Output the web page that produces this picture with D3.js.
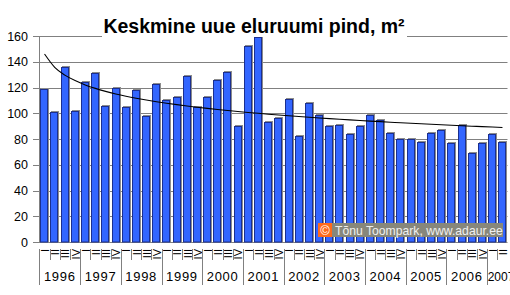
<!DOCTYPE html>
<html>
<head>
<meta charset="utf-8">
<script src="https://cdn.jsdelivr.net/npm/d3@7"></script>
<style>
  body { margin: 0; background: #fff; }
  svg { display: block; font-family: "Liberation Sans", Arial, sans-serif; }
</style>
</head>
<body>
<div id="chart"></div>
<script>
// data, quarterly 1996 Q1 .. 2007 Q2
const years = ["1996", "1997", "1998", "1999", "2000", "2001", "2002", "2003", "2004", "2005", "2006", "2007"];
const quarters = ["I", "II", "III", "IV"];
const values = [
    119, 101, 136, 102,
    124, 131, 106, 120,
    105, 118, 98, 123,
    110, 113, 129, 105,
    113, 126, 132, 90,
    152, 159, 93, 96,
    111, 82, 108, 99,
    90, 91, 84, 90,
    99, 95, 85, 80,
    80, 78, 85, 87,
    77, 91, 69, 77,
    84, 78,
];
const yTicks = [0, 20, 40, 60, 80, 100, 120, 140, 160];
// logarithmic trend as drawn in the picture: v = trendA + trendB * ln(n), n = 1..46
const trendA = 146;
const trendB = -14.9;
const title = "Keskmine uue eluruumi pind, m²";
const credit = "Tõnu Toompark, www.adaur.ee";

const width = 510, height = 295;
const plot = { left: 39.5, right: 507.5, top: 36, bottom: 242 };

// one entry per quarter
const data = values.map((v, i) => ({
    i: i,
    year: years[Math.floor(i / 4)],
    q: quarters[i % 4],
    v: v,
}));

const x = d3.scaleBand().domain(data.map(d => d.i)).range([plot.left, plot.right]).paddingInner(0.17).paddingOuter(0.08);
const y = d3.scaleLinear().domain([0, 160]).range([plot.bottom, plot.top]);

const svg = d3.select("#chart").append("svg").attr("width", width).attr("height", height);

// grid + y axis
svg.append("g").selectAll("line").data(yTicks).enter().append("line")
    .attr("x1", 33).attr("x2", plot.right)
    .attr("y1", d => Math.round(y(d)) + 0.5).attr("y2", d => Math.round(y(d)) + 0.5)
    .attr("stroke", "#808080").attr("stroke-width", 1);
svg.append("line")
    .attr("x1", plot.left).attr("x2", plot.left)
    .attr("y1", plot.top).attr("y2", plot.bottom + 1)
    .attr("stroke", "#808080");
svg.append("g").selectAll("text").data(yTicks).enter().append("text")
    .attr("x", 28).attr("y", d => y(d)).attr("dy", "0.36em")
    .attr("text-anchor", "end").attr("font-size", "12.5px").attr("fill", "#000")
    .text(d => d);

// bars: gray shadow first, then the blue bar
const step = x.step();
const bars = svg.append("g");
bars.selectAll("rect.shadow").data(data).enter().append("rect")
    .attr("class", "shadow")
    .attr("x", d => Math.round(x(d.i)) + 1)
    .attr("y", d => Math.round(y(d.v)) - 1)
    .attr("width", Math.round(x.bandwidth()))
    .attr("height", d => plot.bottom - Math.round(y(d.v)) + 1)
    .attr("fill", "#8c8c8c");
bars.selectAll("rect.bar").data(data).enter().append("rect")
    .attr("class", "bar")
    .attr("x", d => Math.round(x(d.i)) + 0.5)
    .attr("y", d => Math.round(y(d.v)) + 0.5)
    .attr("width", Math.round(x.bandwidth()) - 1)
    .attr("height", d => plot.bottom - Math.round(y(d.v)) - 0.5)
    .attr("fill", "#3366ff")
    .attr("stroke", "#1b2f8f").attr("stroke-width", 1);

// trend line
const line = d3.line()
    .x(d => x(d.i) + x.bandwidth() / 2)
    .y(d => y(trendA + trendB * Math.log(d.i + 1)))
    .curve(d3.curveMonotoneX);
svg.append("path").datum(data)
    .attr("d", line)
    .attr("fill", "none").attr("stroke", "#000").attr("stroke-width", 1.1);

// category axis: quarter labels (rotated), quarter ticks, year separators
const axisTop = 249;
svg.append("g").selectAll("text").data(data).enter().append("text")
    .attr("transform", d => `translate(${x(d.i) + x.bandwidth() / 2 + 4.5},${axisTop}) rotate(-90)`)
    .attr("text-anchor", "end").attr("font-size", "11px").attr("fill", "#000")
    .text(d => d.q);
svg.append("g").selectAll("line").data(data.slice(1)).enter().append("line")
    .attr("x1", d => Math.round(x(d.i) - step * x.paddingInner() / 2) + 0.5)
    .attr("x2", d => Math.round(x(d.i) - step * x.paddingInner() / 2) + 0.5)
    .attr("y1", axisTop).attr("y2", 260)
    .attr("stroke", "#808080");

const yearGroups = years.map(yr => {
    const items = data.filter(d => d.year === yr);
    const x0 = x(items[0].i) - step * x.paddingInner() / 2;
    const x1 = x(items[items.length - 1].i) + x.bandwidth() + step * x.paddingInner() / 2;
    return { year: yr, x0: x0, x1: x1, narrow: items.length < 4 };
});
svg.append("g").selectAll("line").data(yearGroups).enter().append("line")
    .attr("x1", d => Math.round(d.x0) + 0.5).attr("x2", d => Math.round(d.x0) + 0.5)
    .attr("y1", axisTop).attr("y2", 285)
    .attr("stroke", "#808080");
svg.append("g").selectAll("text").data(yearGroups).enter().append("text")
    .attr("x", d => d.narrow ? d.x0 + 0.5 : (d.x0 + d.x1) / 2)
    .attr("y", 281)
    .attr("text-anchor", d => d.narrow ? "start" : "middle")
    .attr("font-size", d => d.narrow ? "12px" : "13px")
    .attr("letter-spacing", d => d.narrow ? "0px" : "0.7px")
    .attr("fill", "#000")
    .text(d => d.year);

// title on a white box that hides the top grid line
svg.append("rect").attr("x", 102).attr("y", 12).attr("width", 305).attr("height", 25).attr("fill", "#fff");
svg.append("text")
    .attr("x", 254).attr("y", 33)
    .attr("text-anchor", "middle").attr("font-size", "19.5px").attr("font-weight", "bold").attr("fill", "#000")
    .text(title);

// credit box
const cg = svg.append("g").attr("transform", "translate(318,223)");
cg.append("rect").attr("width", 185).attr("height", 14).attr("fill", "#87877b");
cg.append("rect").attr("width", 14).attr("height", 14).attr("fill", "#ff6a1a");
cg.append("text").attr("x", 7).attr("y", 11.5).attr("text-anchor", "middle")
    .attr("font-size", "13px").attr("fill", "#fff").text("©");
cg.append("text").attr("x", 17).attr("y", 11.5)
    .attr("font-size", "12.2px").attr("fill", "#f0f0f0").text(credit);
</script>
</body>
</html>
